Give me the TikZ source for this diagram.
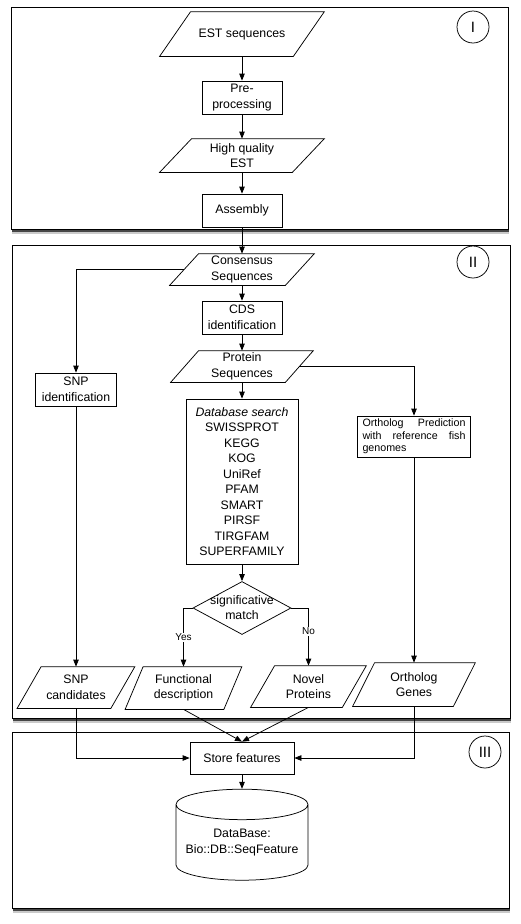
\documentclass[tikz,border=0pt]{standalone}
\usepackage{fontspec}
\setmainfont{Liberation Sans}
\usetikzlibrary{shapes.geometric,arrows.meta,shadows}

\tikzset{every picture/.style={line width=0.75pt}}
\tikzset{
  panel/.style={draw, line width=1pt, fill=white,
    drop shadow={shadow xshift=1pt, shadow yshift=-5pt, opacity=0.35, fill=black!60},
    drop shadow={shadow xshift=0.5pt, shadow yshift=-2.5pt, opacity=0.8, fill=black!85}},
  stage/.style={draw, circle, minimum size=32pt, inner sep=0pt, font=\fontsize{15}{17}\selectfont},
  proc/.style={draw, rectangle, fill=white, inner sep=0pt, align=center, font=\fontsize{12.3}{15.5}\selectfont},
  % parallelogram: text box of the edge length, corners shifted by half the slant
  io/.style={rectangle, inner sep=0pt, align=center, font=\fontsize{12.3}{15.5}\selectfont,
    append after command={([xshift=#1]\tikzlastnode.north west) -- ([xshift=#1]\tikzlastnode.north east)
      -- ([xshift=-#1]\tikzlastnode.south east) -- ([xshift=-#1]\tikzlastnode.south west) -- cycle}},
  decision/.style={draw, diamond, fill=white, inner sep=0pt},
  flow/.style={-{Triangle[length=7pt,width=5.5pt]}},
  answer/.style={fill=white, inner sep=1pt, font=\fontsize{10}{12}\selectfont}
}

\begin{document}
\begin{tikzpicture}[x=1pt,y=1pt,yscale=-1,xscale=1]
		\useasboundingbox (0,0) rectangle (520,924);

		%Shape: Rectangle [panel I]
		\draw [panel] (11,7) rectangle (508,229);
		%Shape: Rectangle [panel II]
		\draw [panel] (12,245) rectangle (510,718);
		%Shape: Rectangle [panel III]
		\draw [panel] (12,732) rectangle (509,908);

		%Shape: Circle
		\node [stage] (tagI) at (473,27) {I};
		%Shape: Circle
		\node [stage] (tagII) at (473,262) {II};
		%Shape: Circle
		\node [stage] (tagIII) at (485,752) {III};

		% Text Node
		\draw (242,34) node [io=15.5, minimum width=133pt, minimum height=44pt] (est) {EST sequences};
		% Text Node
		\node [proc, minimum width=80pt, minimum height=33pt] (pre) at (242,97.5) {Pre-\\processing};
		% Text Node
		\draw (242,155.5) node [io=16, minimum width=132pt, minimum height=33pt] (hq) {High quality\\EST};
		% Text Node
		\node [proc, minimum width=80pt, minimum height=33pt] (asm) at (242,210.5) {Assembly};

		% Text Node
		\draw (242,269.5) node [io=14.5, minimum width=115pt, minimum height=31pt] (cons) {Consensus\\Sequences};
		% Text Node
		\node [proc, minimum width=80pt, minimum height=33pt] (cds) at (242,317.5) {CDS\\identification};
		% Text Node
		\draw (242,366.5) node [io=14, minimum width=114pt, minimum height=31pt] (prot) {Protein\\Sequences};
		% Text Node
		\node [proc, minimum width=81pt, minimum height=33pt] (snpid) at (76,389.5) {SNP\\identification};
		% Text Node
		\node [proc, minimum width=112pt, minimum height=165pt] (db) at (242,481.5) {\textit{Database search}\\SWISSPROT\\KEGG\\KOG\\UniRef\\PFAM\\SMART\\PIRSF\\TIRGFAM\\SUPERFAMILY};
		% Text Node
		\node [proc, minimum width=113pt, minimum height=41pt, text width=103pt, align=justify, font=\fontsize{10.7}{12.7}\selectfont] (orthpred) at (414,436.5) {Ortholog Prediction with reference fish \mbox{genomes}};
		%Shape: Diamond
		\node [decision, minimum width=98pt, minimum height=53pt, label={[align=center, font=\fontsize{12.3}{15}\selectfont]center:significative\\match}] (match) at (242,608) {};

		% Text Node
		\draw (76,687.5) node [io=12, minimum width=93pt, minimum height=41pt] (snpcand) {SNP\\candidates};
		% Text Node
		\draw (183.5,688) node [io=9, minimum width=98pt, minimum height=42pt] (func) {Functional\\description};
		% Text Node
		\draw (308.5,686.5) node [io=12, minimum width=91pt, minimum height=41pt] (novel) {Novel\\Proteins};
		% Text Node
		\draw (414,684.5) node [io=11, minimum width=100pt, minimum height=43pt] (orth) {Ortholog\\Genes};

		% Text Node
		\node [proc, minimum width=104pt, minimum height=32pt] (store) at (242,758) {Store features};
		%Shape: Can
		\node [draw, cylinder, shape border rotate=90, aspect=0.27, minimum width=132pt, minimum height=91pt, fill=white, align=center, inner sep=0pt, font=\fontsize{12.3}{15.5}\selectfont] (featdb) at (242,842.5) {DataBase:\\Bio::DB::SeqFeature};

		%Straight Lines
		\draw [flow] (est) -- (pre);
		\draw [flow] (pre) -- (hq);
		\draw [flow] (hq) -- (asm);
		\draw [flow] (asm) -- (cons);
		\draw [flow] (cons) -- (cds);
		\draw [flow] (cds) -- (prot);
		\draw [flow] (prot) -- (db);
		\draw [flow] (db) -- (match);
		%Elbow Lines
		\draw [flow] (cons.west) -| (snpid.north);
		\draw [flow] (prot.east) -| (orthpred.north);
		\draw [flow] (match.west) -| node [answer, pos=0.75] {Yes} (func.north);
		\draw [flow] (match.east) -| node [answer, pos=0.7] {No} (novel.north);
		%Straight Lines
		\draw [flow] (snpid) -- (snpcand);
		\draw [flow] (orthpred) -- (orth);
		%Elbow Lines
		\draw [flow] (snpcand.south) |- (store.west);
		\draw [flow] (orth.south) |- (store.east);
		%Straight Lines
		\draw [flow] (func.south) -- (store.north);
		\draw [flow] (novel.south) -- (store.north);
		\draw [flow] (store) -- (featdb);

	\end{tikzpicture}
\end{document}
